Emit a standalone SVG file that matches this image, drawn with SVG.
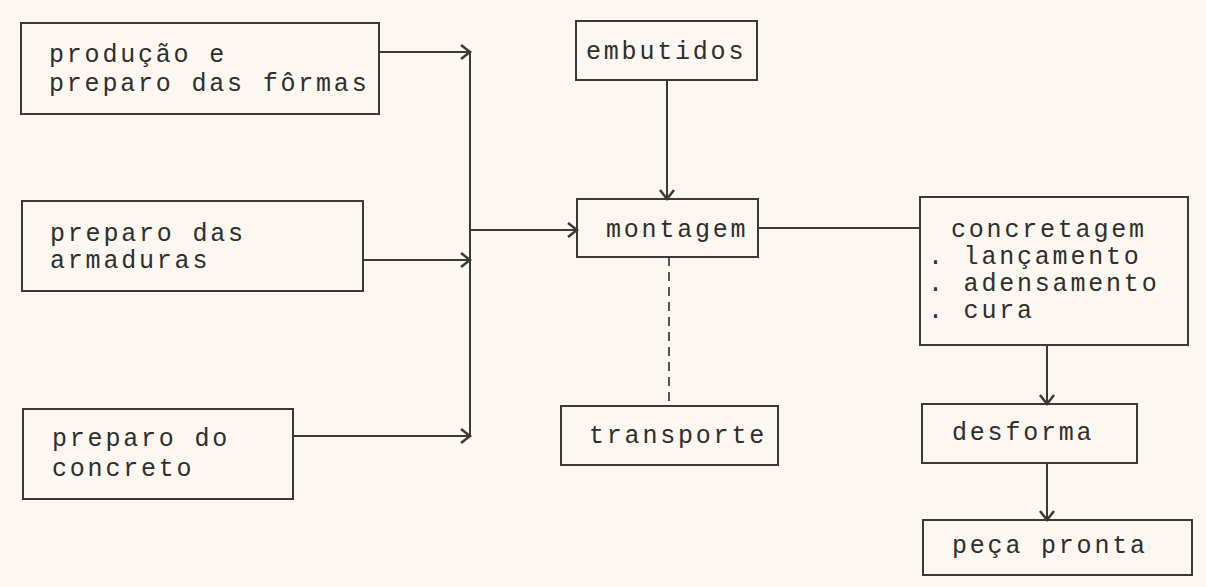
<svg xmlns="http://www.w3.org/2000/svg" width="1206" height="587" viewBox="0 0 1206 587">
<defs>
<style>
.box{fill:none;stroke:#3a3a3a;stroke-width:2}
.ln{fill:none;stroke:#3a3a3a;stroke-width:2}
.dash{fill:none;stroke:#555;stroke-width:2;stroke-dasharray:9,6}
text{font-family:"Liberation Mono","Courier New",monospace;font-size:25px;letter-spacing:2.8px;fill:#2e2e2e}
</style>
<marker id="ah" markerUnits="userSpaceOnUse" markerWidth="14" markerHeight="16" refX="10" refY="8" orient="auto">
<path d="M1,1 L10,8 L1,15" fill="none" stroke="#3a3a3a" stroke-width="2.5"/>
</marker>
</defs>
<rect width="1206" height="587" fill="#fcf8f1"/>
<g id="connectors">
<line class="ln" x1="379" y1="52" x2="470" y2="52" marker-end="url(#ah)"/>
<line class="ln" x1="363" y1="260" x2="470" y2="260" marker-end="url(#ah)"/>
<line class="ln" x1="293" y1="436" x2="470" y2="436" marker-end="url(#ah)"/>
<line class="ln" x1="470" y1="52" x2="470" y2="436"/>
<line class="ln" x1="470" y1="230" x2="577" y2="230" marker-end="url(#ah)"/>
<line class="ln" x1="667" y1="80" x2="667" y2="199" marker-end="url(#ah)"/>
<line class="ln" x1="758" y1="228" x2="920" y2="228"/>
<line class="dash" x1="669" y1="257" x2="669" y2="406"/>
<line class="ln" x1="1047" y1="345" x2="1047" y2="404" marker-end="url(#ah)"/>
<line class="ln" x1="1047" y1="463" x2="1047" y2="520" marker-end="url(#ah)"/>
</g>
<g id="producao">
<rect class="box" x="21" y="23" width="358" height="91"/>
<text x="49" y="62">produção e</text>
<text x="49" y="91">preparo das fôrmas</text>
</g>
<g id="armaduras">
<rect class="box" x="22" y="201" width="341" height="90"/>
<text x="50" y="241">preparo das</text>
<text x="50" y="268">armaduras</text>
</g>
<g id="concreto">
<rect class="box" x="23" y="409" width="270" height="90"/>
<text x="52" y="446">preparo do</text>
<text x="52" y="476">concreto</text>
</g>
<g id="embutidos">
<rect class="box" x="576" y="21" width="181" height="59"/>
<text x="586" y="59">embutidos</text>
</g>
<g id="montagem">
<rect class="box" x="577" y="199" width="181" height="58"/>
<text x="606" y="237">montagem</text>
</g>
<g id="transporte">
<rect class="box" x="561" y="406" width="217" height="59"/>
<text x="589" y="443">transporte</text>
</g>
<g id="concretagem">
<rect class="box" x="920" y="197" width="268" height="148"/>
<text x="951" y="237">concretagem</text>
<text x="928" y="264">. lançamento</text>
<text x="928" y="291">. adensamento</text>
<text x="928" y="318">. cura</text>
</g>
<g id="desforma">
<rect class="box" x="922" y="404" width="215" height="59"/>
<text x="952" y="440">desforma</text>
</g>
<g id="peca">
<rect class="box" x="923" y="520" width="269" height="55"/>
<text x="952" y="553">peça pronta</text>
</g>
</svg>
